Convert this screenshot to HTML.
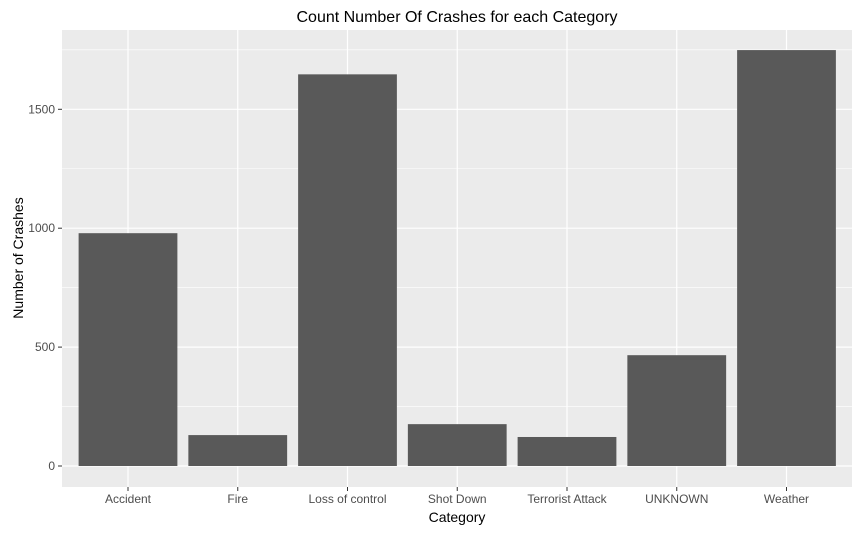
<!DOCTYPE html>
<html><head><meta charset="utf-8"><style>
body{margin:0;background:#fff;}
svg text{font-family:"Liberation Sans",Arial,sans-serif;}
</style></head><body>
<svg id="chart" width="860" height="532">
<text x="457" y="22" text-anchor="middle" font-size="16" fill="#000">Count Number Of Crashes for each Category</text>
<rect x="62" y="30" width="790" height="457" fill="#ebebeb"/>
<g id="grid"></g><g id="bars"></g><g id="axes"></g>
<text x="457" y="522" text-anchor="middle" font-size="14" fill="#000">Category</text>
<text transform="translate(23,258) rotate(-90)" text-anchor="middle" font-size="14" fill="#000">Number of Crashes</text>
</svg>
<script>
const categories=["Accident","Fire","Loss of control","Shot Down","Terrorist Attack","UNKNOWN","Weather"];
const counts=[979,130,1647,176,122,466,1749];
const yTicks=[0,500,1000,1500];
const NS="http://www.w3.org/2000/svg";
const y0=466,k=(466-109.3)/1500;
const y=v=>y0-v*k;
const step=(786.5-128)/6;
const x=i=>128+i*step;
function mk(tag,attrs,parent,txt){const e=document.createElementNS(NS,tag);for(const a in attrs)e.setAttribute(a,attrs[a]);if(txt!==undefined)e.textContent=txt;document.getElementById(parent).appendChild(e);return e;}
const minor=[250,750,1250,1750];
minor.forEach(v=>{const l=mk("line",{x1:62,x2:852,y1:y(v),y2:y(v),stroke:"#fff","stroke-width":0.6},"grid");

});
yTicks.forEach(v=>{const l=mk("line",{x1:62,x2:852,y1:y(v),y2:y(v),stroke:"#fff","stroke-width":1.2},"grid");


const t=mk("text",{x:55,y:y(v)+4,"text-anchor":"end","font-size":12,fill:"#4d4d4d"},"axes",String(v));


mk("line",{x1:58,x2:62,y1:y(v),y2:y(v),stroke:"#333"},"axes");});
categories.forEach((c,i)=>{const l=mk("line",{x1:x(i),x2:x(i),y1:30,y2:487,stroke:"#fff","stroke-width":1.2},"grid");


const w=step*0.9;
const r=mk("rect",{x:x(i)-w/2,y:y(counts[i]),width:w,height:y(0)-y(counts[i]),fill:"#595959"},"bars");


mk("line",{x1:x(i),x2:x(i),y1:487,y2:491,stroke:"#333"},"axes");
const t=mk("text",{x:x(i),y:503,"text-anchor":"middle","font-size":12,fill:"#4d4d4d"},"axes",c);

});
</script>
</body></html>
